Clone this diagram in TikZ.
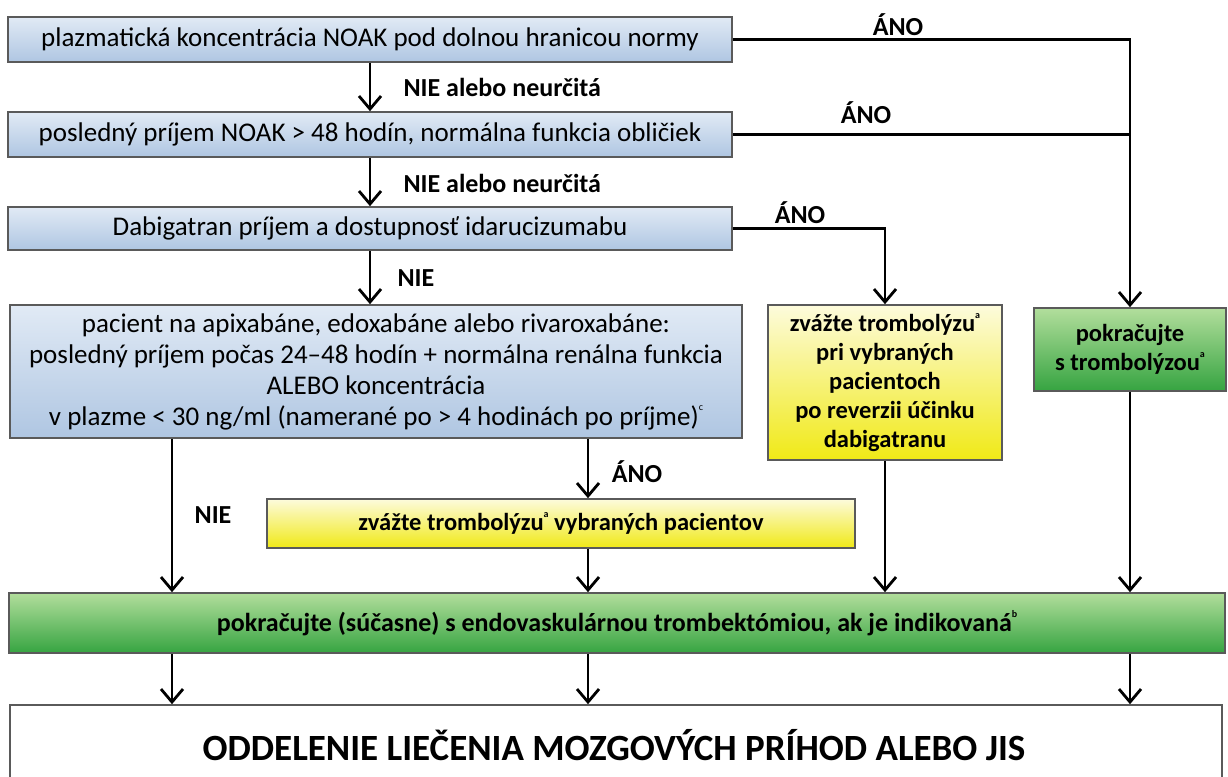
\documentclass[tikz,border=0pt]{standalone}
\usepackage{fontspec}
\setmainfont{Carlito}
\usetikzlibrary{arrows.meta}

\definecolor{bluetop}{HTML}{E1EAF5}
\definecolor{bluebot}{HTML}{AFC6E2}
\definecolor{yeltop}{HTML}{FDFBDC}
\definecolor{yelbot}{HTML}{F0E916}
\definecolor{grntop}{HTML}{B2DE9C}
\definecolor{grnbot}{HTML}{36A441}
\definecolor{boxline}{HTML}{5A5A5A}

\newcommand{\fnm}[1]{\raisebox{0.55em}{\fontsize{10}{10}\selectfont #1}}

\tikzset{
  box/.style={draw=boxline, line width=1.6pt, align=center, inner sep=2pt},
  qbox/.style={box, top color=bluetop, bottom color=bluebot,
    font=\fontsize{27}{31}\selectfont},
  ybox/.style={box, top color=yeltop, bottom color=yelbot,
    font=\bfseries\fontsize{24.5}{29}\selectfont},
  gbox/.style={box, top color=grntop, bottom color=grnbot,
    font=\bfseries\fontsize{24.5}{29}\selectfont},
  lbl/.style={font=\bfseries\fontsize{26}{28}\selectfont},
  arr/.style={line width=2.8pt, -{Straight Barb[length=13pt,width=22pt,line width=2.8pt]}},
  lin/.style={line width=2.8pt}
}

\begin{document}
\begin{tikzpicture}[x=1pt,y=-1pt]
\useasboundingbox (0,0) rectangle (1228,776);
\clip (0,0) rectangle (1228,776);

% questions
\node[qbox, minimum width=724, minimum height=45] (q1) at (370,39.5)
  {plazmatická koncentrácia NOAK pod dolnou hranicou normy};
\node[qbox, minimum width=724, minimum height=45] (q2) at (370,134.5)
  {posledný príjem NOAK > 48 hodín, normálna funkcia obličiek};
\node[qbox, minimum width=724, minimum height=43] (q3) at (370,228.5)
  {Dabigatran príjem a dostupnosť idarucizumabu};
\node[qbox, minimum width=732, minimum height=133] (q4) at (376,371.5)
  {pacient na apixabáne, edoxabáne alebo rivaroxabáne:\\
   posledný príjem počas 24--48 hodín + normálna renálna funkcia\\
   ALEBO koncentrácia\\
   v plazme < 30 ng/ml (namerané po > 4 hodinách po príjme)\fnm{c}};

% actions
\node[ybox, minimum width=234, minimum height=155] (y1) at (885,382.5)
  {zvážte trombolýzu\fnm{a}\\ pri vybraných\\ pacientoch\\
   po reverzii účinku\\ dabigatranu};
\node[gbox, minimum width=192, minimum height=83] (g1) at (1130,349.5)
  {pokračujte\\ s trombolýzou\fnm{a}};
\node[ybox, minimum width=588, minimum height=49] (y2) at (561,523.5)
  {zvážte trombolýzu\fnm{a} vybraných pacientov};
\node[gbox, minimum width=1216, minimum height=60,
  font=\bfseries\fontsize{26}{30}\selectfont] (g2) at (617,623)
  {pokračujte (súčasne) s endovaskulárnou trombektómiou, ak je indikovaná\fnm{b}};
\node[box, fill=white, minimum width=1212, minimum height=110] (w) at (616,760) {};
\node[font=\bfseries\fontsize{37}{40}\selectfont] (wt) at (614,745)
  {ODDELENIE LIEČENIA MOZGOVÝCH PRÍHOD ALEBO JIS};

% columns
\coordinate (cl) at (172,0);
\coordinate (cm) at (588,0);
\coordinate (cr) at (1130,0);

% connectors
\draw[arr] (q1) -- (q2);
\draw[arr] (q2) -- (q3);
\draw[arr] (q3.south) -- (q3.south |- q4.north);
\draw[arr] (q1.east) -| (g1.north);
\draw[lin] (q2.east) -- (q2.east -| cr);
\draw[arr] (q3.east) -| (y1.north);
\draw[arr] (q4.south -| cl) -- (g2.north -| cl);
\draw[arr] (q4.south -| cm) -- (y2.north -| cm);
\draw[arr] (y2.south -| cm) -- (g2.north -| cm);
\draw[arr] (y1.south) -- (y1.south |- g2.north);
\draw[arr] (g1.south) -- (g1.south |- g2.north);
\foreach \c in {cl,cm,cr}
  \draw[arr] (g2.south -| \c) -- (w.north -| \c);

% labels
\node[lbl] (l1) at (898,25) {ÁNO};
\node[lbl] (l2) at (866,113) {ÁNO};
\node[lbl] (l3) at (800,213) {ÁNO};
\node[lbl, anchor=west] (l4) at (400,87) {NIE alebo neurčitá};
\node[lbl, anchor=west] (l5) at (400,183) {NIE alebo neurčitá};
\node[lbl, anchor=west] (l6) at (394,278) {NIE};
\node[lbl] (l7) at (213,515) {NIE};
\node[lbl] (l8) at (637,472) {ÁNO};
\end{tikzpicture}
\end{document}
